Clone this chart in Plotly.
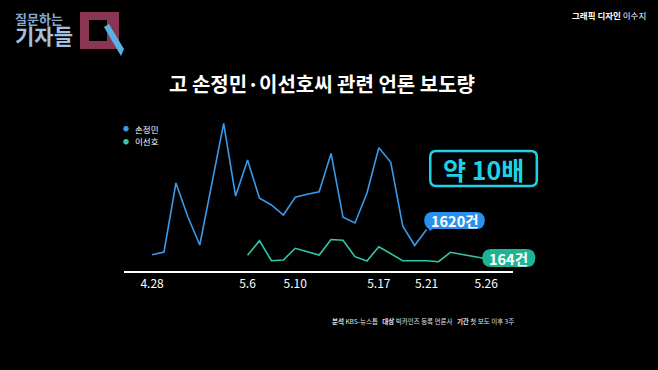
import plotly.graph_objects as go

# ---------------- data ----------------
dates = ["4.28", "4.29", "4.30", "5.1", "5.2", "5.3", "5.4", "5.5", "5.6", "5.7",
         "5.8", "5.9", "5.10", "5.11", "5.12", "5.13", "5.14", "5.15", "5.16", "5.17",
         "5.18", "5.19", "5.20", "5.21", "5.22", "5.23", "5.24", "5.25", "5.26"]
son_values = [365, 500, 3950, 2265, 850, 3900, 6935, 3300, 5100, 3185,
              2850, 2350, 3235, 3385, 3515, 5425, 2235, 1950, 3435, 5715,
              4985, 1800, 825, 1620]
lee_dates = dates[8:]
lee_values = [335, 1065, 65, 100, 685, 515, 350, 1125, 1085, 265,
              50, 765, 435, 65, 65, 60, 15, 485, 375, 275, 164]
tick_labels = ["4.28", "5.6", "5.10", "5.17", "5.21", "5.26"]
series_names = ["손정민", "이선호"]

BLUE = "#3a9ae8"
TEAL = "#33c7a9"
BLUE_FILL = "#2b8fee"
TEAL_FILL = "#1fb396"
CYAN = "#1ed2e6"
KR = "Noto Sans CJK KR"

# ---------------- geometry helpers (pixel -> paper) ----------------
W, H = 658, 370
L, RX = 124.0, 512.7
T, B = 110.0, 271.0
PW, PH = RX - L, B - T


def X(px):
    return (px - L) / PW


def Y(py):
    return (B - py) / PH


def rrect(x0, y0, x1, y1, r):
    p = (f"M {X(x0+r)},{Y(y0)} L {X(x1-r)},{Y(y0)} Q {X(x1)},{Y(y0)} {X(x1)},{Y(y0+r)} "
         f"L {X(x1)},{Y(y1-r)} Q {X(x1)},{Y(y1)} {X(x1-r)},{Y(y1)} "
         f"L {X(x0+r)},{Y(y1)} Q {X(x0)},{Y(y1)} {X(x0)},{Y(y1-r)} "
         f"L {X(x0)},{Y(y0+r)} Q {X(x0)},{Y(y0)} {X(x0+r)},{Y(y0)} Z")
    return p


def poly(pts):
    s = "M " + " L ".join(f"{X(a)},{Y(b)}" for a, b in pts) + " Z"
    return s


fig = go.Figure()
fig.add_trace(go.Scatter(x=dates[:len(son_values)], y=son_values, mode="lines",
                         line=dict(color=BLUE, width=1.6), name=series_names[0],
                         showlegend=False, hoverinfo="skip"))
fig.add_trace(go.Scatter(x=lee_dates, y=lee_values, mode="lines",
                         line=dict(color=TEAL, width=1.6), name=series_names[1],
                         showlegend=False, hoverinfo="skip"))

shapes = []
annotations = []

# logo
shapes.append(dict(type="path", xref="paper", yref="paper", layer="above",
                   path=poly([(80, 12), (119, 12), (119, 49), (80, 49)]),
                   fillcolor="#8a3553", line=dict(width=0)))
shapes.append(dict(type="path", xref="paper", yref="paper", layer="above",
                   path=poly([(89, 20), (107, 20), (107, 41), (89, 41)]),
                   fillcolor="#000000", line=dict(width=0)))
shapes.append(dict(type="path", xref="paper", yref="paper", layer="above",
                   path=poly([(104, 27), (109, 24), (124, 49), (121, 56)]),
                   fillcolor="#58b2e2", line=dict(width=0)))
annotations.append(dict(
    text=("<span style='font-size:13px;color:#86a9cd'><b>질문하는</b></span><br>"
          "<span style='font-size:21px;color:#a4c0dc'><b>기자들</b></span>"),
    x=X(13), y=Y(30), xref="paper", yref="paper", align="left",
    xanchor="left", yanchor="middle", showarrow=False,
    font=dict(family=KR, size=15, color="#a4c0dc")))

# credit
annotations.append(dict(text="<b>그래픽 디자인</b> 이수지", x=X(648), y=Y(15), xref="paper", yref="paper",
                        xanchor="right", yanchor="middle", showarrow=False,
                        font=dict(family=KR, size=8.5, color="#ffffff")))

# title
annotations.append(dict(text="<b>고 손정민·이선호씨 관련 언론 보도량</b>", x=X(322), y=Y(83),
                        xref="paper", yref="paper", xanchor="center", yanchor="middle",
                        showarrow=False, font=dict(family=KR, size=20, color="#ffffff")))

# legend
for i, (nm, col) in enumerate(zip(series_names, [BLUE, TEAL])):
    yy = 128.5 + i * 12.5
    annotations.append(dict(text="●", x=X(126), y=Y(yy), xref="paper", yref="paper",
                            xanchor="center", yanchor="middle", showarrow=False,
                            font=dict(family=KR, size=6, color=col)))
    annotations.append(dict(text=nm, x=X(133), y=Y(yy), xref="paper", yref="paper",
                            xanchor="left", yanchor="middle", showarrow=False,
                            font=dict(family=KR, size=8.5, color="#ffffff")))

# 약 10배 box
shapes.append(dict(type="path", xref="paper", yref="paper", layer="above",
                   path=rrect(430, 151, 536.5, 186, 6),
                   line=dict(color=CYAN, width=2.5), fillcolor="rgba(0,0,0,0)"))
annotations.append(dict(text="<b>약 10배</b>", x=X(483.5), y=Y(168.5), xref="paper", yref="paper",
                        xanchor="center", yanchor="middle", showarrow=False,
                        font=dict(family=KR, size=25, color=CYAN)))

# 1620건 bubble
shapes.append(dict(type="path", xref="paper", yref="paper", layer="above",
                   path=poly([(426, 226), (436, 226), (430, 231)]),
                   fillcolor=BLUE_FILL, line=dict(width=0)))
shapes.append(dict(type="path", xref="paper", yref="paper", layer="above",
                   path=rrect(424, 212, 484.5, 229, 8.5),
                   fillcolor=BLUE_FILL, line=dict(width=0)))
annotations.append(dict(text="<b>1620건</b>", x=X(454.5), y=Y(220.5), xref="paper", yref="paper",
                        xanchor="center", yanchor="middle", showarrow=False,
                        font=dict(family=KR, size=14.5, color="#ffffff")))

# 164건 bubble
shapes.append(dict(type="path", xref="paper", yref="paper", layer="above",
                   path=rrect(482, 249, 535, 267, 9),
                   fillcolor=TEAL_FILL, line=dict(width=0)))
annotations.append(dict(text="<b>164건</b>", x=X(508.5), y=Y(258), xref="paper", yref="paper",
                        xanchor="center", yanchor="middle", showarrow=False,
                        font=dict(family=KR, size=14.5, color="#ffffff")))

# footer
annotations.append(dict(text="<b>분석</b> KBS-뉴스톱   <b>대상</b> 빅카인즈 등록 언론사   <b>기간</b> 첫 보도 이후 3주",
                        x=X(330), y=Y(320.5), xref="paper", yref="paper",
                        xanchor="left", yanchor="middle", showarrow=False,
                        font=dict(family=KR, size=6.5, color="#e0e0e0")))

fig.update_layout(
    width=W, height=H,
    paper_bgcolor="#000000", plot_bgcolor="#000000",
    margin=dict(l=L, r=W - RX, t=T, b=H - B, autoexpand=False),
    showlegend=False,
    shapes=shapes, annotations=annotations,
    xaxis=dict(type="category", categoryorder="array", categoryarray=dates,
               range=[-2.35, 30.24], showgrid=False, zeroline=False,
               showline=True, linecolor="#ffffff", linewidth=1.5,
               tickmode="array", tickvals=tick_labels, ticktext=tick_labels,
               ticks="outside", ticklen=1, tickcolor="rgba(0,0,0,0)",
               tickfont=dict(family=KR, size=12, color="#ffffff"), fixedrange=True),
    yaxis=dict(range=[-450, 7600], visible=False, fixedrange=True),
)

fig.write_html("out.html", config={"displayModeBar": False},
               post_script="document.body.style.margin='0px';document.body.style.background='#000';")
